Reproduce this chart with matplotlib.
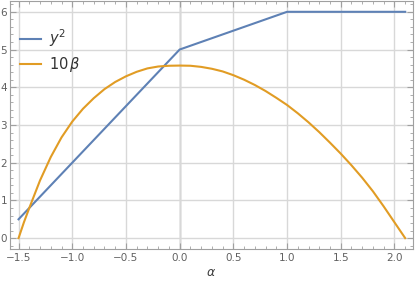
import matplotlib
matplotlib.use("Agg")
import matplotlib.pyplot as plt
from matplotlib.ticker import MultipleLocator

# Data
alpha_y2 = [-1.5, 0.0, 1.0, 2.1]
y2_vals = [0.5, 5.0, 6.0, 6.0]

alpha_beta = [-1.5, -1.45, -1.4, -1.3, -1.2, -1.1, -1.0, -0.9, -0.8, -0.7, -0.6,
              -0.5, -0.4, -0.3, -0.2, -0.1, 0.0, 0.1, 0.2, 0.3, 0.4, 0.5, 0.6,
              0.7, 0.8, 0.9, 1.0, 1.1, 1.2, 1.3, 1.4, 1.5, 1.6, 1.7, 1.8, 1.9,
              2.0, 2.1]
beta10_vals = [0.0, 0.42, 0.80, 1.53, 2.15, 2.67, 3.09, 3.43, 3.71, 3.95, 4.14,
               4.29, 4.41, 4.50, 4.55, 4.57, 4.575, 4.57, 4.54, 4.49, 4.42, 4.32, 4.20,
               4.06, 3.90, 3.72, 3.53, 3.31, 3.07, 2.81, 2.53, 2.24, 1.93, 1.60, 1.24, 0.84,
               0.42, 0.0]

labels = [r"$y^2$", r"$10\,\beta$"]
x_label = r"$\alpha$"

blue = "#5E81B5"
orange = "#E19C24"

fig = plt.figure(figsize=(4.15, 2.92), dpi=100)
ax = fig.add_axes([0.024, 0.147, 0.971, 0.85])

ax.set_xlim(-1.58, 2.172)
ax.set_ylim(-0.29, 6.29)

ax.xaxis.set_major_locator(MultipleLocator(0.5))
ax.xaxis.set_minor_locator(MultipleLocator(0.1))
ax.yaxis.set_major_locator(MultipleLocator(1))
ax.yaxis.set_minor_locator(MultipleLocator(0.2))

ax.grid(True, which="major", color="#d8d8d8", lw=1.0)
ax.axvline(0, color="#999999", lw=1.0, zorder=1)

ax.plot(alpha_y2, y2_vals, color=blue, lw=1.5, label=labels[0], zorder=3,
        solid_joinstyle="round")
ax.plot(alpha_beta, beta10_vals, color=orange, lw=1.5, label=labels[1], zorder=3,
        solid_joinstyle="round")

for s in ax.spines.values():
    s.set_color("#a0a0a0")
    s.set_linewidth(0.8)

ax.tick_params(which="both", direction="in", top=True, right=True,
               color="#a0a0a0", labelcolor="#606060", labelsize=7.5)
ax.tick_params(which="major", length=4, width=0.8)
ax.tick_params(which="minor", length=2.2, width=0.6)
ax.tick_params(axis="y", pad=2)
ax.tick_params(axis="x", pad=3)

ax.set_xticks([-1.5, -1.0, -0.5, 0.0, 0.5, 1.0, 1.5, 2.0])
ax.set_xticklabels(["\u22121.5", "\u22121.0", "\u22120.5", "0.0", "0.5", "1.0", "1.5", "2.0"])
ax.set_yticks([0, 1, 2, 3, 4, 5, 6])
ax.set_yticklabels(["0", "1", "2", "3", "4", "5", "6"])

ax.set_xlabel(x_label, color="#404040", fontsize=9, labelpad=2)

leg = ax.legend(loc="upper left", bbox_to_anchor=(0.0, 0.935), frameon=False,
                fontsize=10.5, handlelength=1.45, handletextpad=0.5,
                labelspacing=0.45, borderaxespad=0.3)
for t in leg.get_texts():
    t.set_color("#333333")

fig.savefig("out.png", dpi=100)
